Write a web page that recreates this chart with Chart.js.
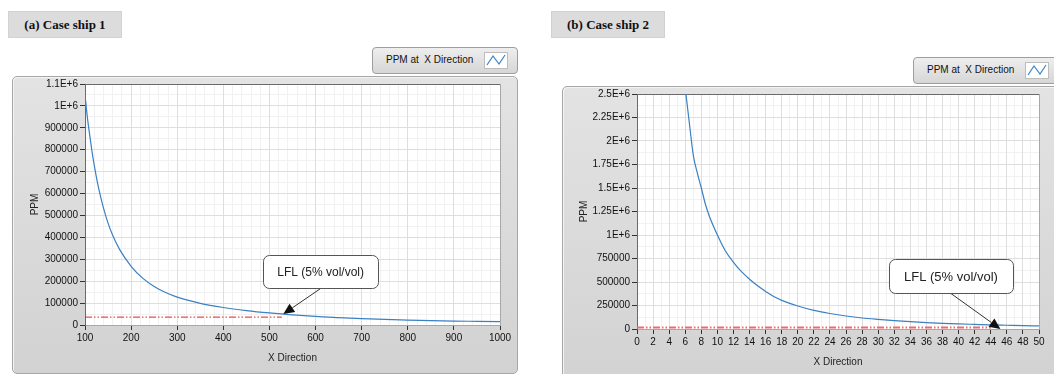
<!DOCTYPE html>
<html>
<head>
<meta charset="utf-8">
<script src="https://cdn.jsdelivr.net/npm/chart.js@4.4.1/dist/chart.umd.min.js"></script>
<style>
  html, body { margin: 0; padding: 0; background: #fff; width: 1054px; height: 374px; overflow: hidden; position: relative; }
  .tag { position: absolute; height: 25px; background: #dcdcdc; border: 1px solid #d2d2d2; font: bold 13px "Liberation Serif", "Times New Roman", serif; color: #111; line-height: 25px; text-align: center; }
  .panel { position: absolute; background: linear-gradient(#e3e3e3, #d2d2d2); border: 1px solid #a6a6a6; border-radius: 5px; box-shadow: inset 1px 1px 0 #f3f3f3; }
  .legend { position: absolute; height: 25px; background: linear-gradient(#eeeeee, #d6d6d6); border: 1px solid #9e9e9e; border-radius: 4px; font: 10px "Liberation Sans", Arial, sans-serif; color: #111; }
  .legend span { position: absolute; left: 13px; top: 6px; white-space: nowrap; }
  .legend svg { position: absolute; left: 111px; top: 4px; }
  canvas { position: absolute; }
</style>
</head>
<body>
<div class="tag" style="left:8px;top:11px;width:112px;">(a) Case ship 1</div>
<div class="tag" style="left:551px;top:11px;width:112px;">(b) Case ship 2</div>

<div class="panel" style="left:12px;top:76px;width:504px;height:296px;"></div>
<div class="panel" style="left:562px;top:86px;width:500px;height:300px;"></div>

<div class="legend" style="left:372px;top:47px;width:144px;">
  <span>PPM at&nbsp; X Direction</span>
  <svg width="24" height="17"><rect x="0.5" y="0.5" width="23" height="16" fill="#fff" stroke="#bdbdbd"/><polyline points="3,13 9,4 15,12 21,3" fill="none" stroke="#3b82c4" stroke-width="1.2"/></svg>
</div>
<div class="legend" style="left:913px;top:57px;width:150px;">
  <span>PPM at&nbsp; X Direction</span>
  <svg width="24" height="17"><rect x="0.5" y="0.5" width="23" height="16" fill="#fff" stroke="#bdbdbd"/><polyline points="3,13 9,4 15,12 21,3" fill="none" stroke="#3b82c4" stroke-width="1.2"/></svg>
</div>

<canvas id="ship1" width="506" height="296" style="left:12px;top:76px;"></canvas>
<canvas id="ship2" width="492" height="288" style="left:562px;top:86px;"></canvas>

<script>
// Case ship 1: concentration along the X direction
const ship1X   = [100, 105, 110, 115, 120, 130, 140, 150, 160, 175, 200, 225, 250, 275, 300, 350, 400, 450, 500, 550, 600, 650, 700, 750, 800, 850, 900, 950, 1000];
const ship1PPM = [1050000, 950000, 870000, 795000, 730000, 620000, 535000, 465000, 410000, 345000, 268000, 214000, 176000, 148000, 127000, 99000, 80000, 66000, 55000, 46000, 39000, 34000, 29500, 25500, 22500, 20000, 18000, 16500, 15000];
const ship1LflX   = [100, 527];
const ship1LflPPM = [36000, 36000];

// Case ship 2: concentration along the X direction
const ship2X   = [6, 6.5, 7, 7.5, 8, 8.5, 9, 10, 11, 12, 13, 14, 15, 16, 17, 18, 20, 22, 24, 26, 28, 30, 32, 34, 36, 38, 40, 42, 44, 46, 48, 50];
const ship2PPM = [2560000, 2200000, 1850000, 1660000, 1500000, 1330000, 1200000, 1000000, 830000, 710000, 610000, 530000, 460000, 400000, 345000, 305000, 245000, 198000, 165000, 138000, 117000, 102000, 89000, 78000, 68000, 60000, 54000, 49000, 44000, 40000, 36000, 33000];
const ship2LflX   = [0, 44];
const ship2LflPPM = [15000, 15000];

// Axis ranges and tick steps
const ship1XRange = [100, 1000], ship1XStep = 100, ship1XMinor = 20;
const ship1YRange = [0, 1100000], ship1YStep = 100000, ship1YMinor = 50000;
const ship2XRange = [0, 50], ship2XStep = 2, ship2XMinor = 1;
const ship2YRange = [0, 2500000], ship2YStep = 250000, ship2YMinor = 125000;

// Callout anchors (data coordinates): arrow tip and box centre
const ship1Tip = [530, 50000], ship1Box = [611, 245000];
const ship2Tip = [45.2, 0],    ship2Box = [39.05, 564000];
const lflText = 'LFL (5% vol/vol)';

const pts = (xs, ys) => xs.map((x, i) => ({ x, y: ys[i] }));

function ppmLabel(v) {
  if (v >= 1e6) return (Math.round(v / 1e4) / 100) + 'E+6';
  return String(Math.round(v));
}

const tickFont = { family: '"Liberation Sans", Arial, sans-serif', size: 10 };

// white plotting surface
const plotFill = {
  id: 'plotFill',
  beforeDraw(chart) {
    const { ctx, chartArea: a } = chart;
    ctx.save();
    ctx.fillStyle = '#ffffff';
    ctx.fillRect(a.left, a.top, a.right - a.left, a.bottom - a.top);
    ctx.restore();
  }
};

// rounded label box with an arrow pointing to the curve
const callout = {
  id: 'callout',
  afterDatasetsDraw(chart, args, o) {
    const xs = chart.scales.x, ys = chart.scales.y, ctx = chart.ctx;
    const tx = xs.getPixelForValue(o.tip[0]), ty = ys.getPixelForValue(o.tip[1]);
    const cx = xs.getPixelForValue(o.box[0]), cy = ys.getPixelForValue(o.box[1]);
    const w = o.w, h = o.h, r = 6;
    const x0 = Math.round(cx - w / 2) + 0.5, y0 = Math.round(cy - h / 2) + 0.5;
    ctx.save();
    // arrow shaft
    const sx = cx, sy = y0 + h;
    const ang = Math.atan2(ty - sy, tx - sx);
    const L = 11, hw = 5;
    const bx = tx - L * Math.cos(ang), by = ty - L * Math.sin(ang);
    ctx.strokeStyle = '#333';
    ctx.lineWidth = 1;
    ctx.beginPath(); ctx.moveTo(sx, sy); ctx.lineTo(bx, by); ctx.stroke();
    ctx.fillStyle = '#111';
    ctx.beginPath();
    ctx.moveTo(tx, ty);
    ctx.lineTo(bx + hw * Math.sin(ang), by - hw * Math.cos(ang));
    ctx.lineTo(bx - hw * Math.sin(ang), by + hw * Math.cos(ang));
    ctx.closePath(); ctx.fill();
    // box
    ctx.beginPath();
    ctx.moveTo(x0 + r, y0);
    ctx.arcTo(x0 + w, y0, x0 + w, y0 + h, r);
    ctx.arcTo(x0 + w, y0 + h, x0, y0 + h, r);
    ctx.arcTo(x0, y0 + h, x0, y0, r);
    ctx.arcTo(x0, y0, x0 + w, y0, r);
    ctx.closePath();
    ctx.fillStyle = '#fff'; ctx.fill();
    ctx.strokeStyle = '#555'; ctx.stroke();
    ctx.fillStyle = '#222';
    ctx.font = o.fontSize + 'px "Liberation Sans", Arial, sans-serif';
    ctx.textAlign = 'center'; ctx.textBaseline = 'middle';
    ctx.fillText(o.text, cx, cy + 1);
    ctx.restore();
  }
};

function buildChart(id, cfg) {
  return new Chart(document.getElementById(id), {
    type: 'line',
    data: {
      datasets: [
        {
          data: pts(cfg.lflX, cfg.lflY),
          borderColor: cfg.lflColor, borderWidth: cfg.lflWidth,
          borderDash: [7, 2, 1.5, 2, 1.5, 2],
          pointRadius: 0, xAxisID: 'x', yAxisID: 'y'
        },
        {
          data: pts(cfg.xs, cfg.ys),
          borderColor: '#3a80c3', borderWidth: 1.2,
          cubicInterpolationMode: 'monotone',
          pointRadius: 0, xAxisID: 'x', yAxisID: 'y'
        }
      ]
    },
    options: {
      responsive: false, animation: false, devicePixelRatio: 1,
      layout: { padding: { left: 0, top: cfg.padTop, right: cfg.padRight, bottom: 0 } },
      plugins: {
        legend: { display: false }, tooltip: { enabled: false },
        callout: cfg.callout
      },
      scales: {
        xMinor: {
          type: 'linear', position: 'top', min: cfg.xRange[0], max: cfg.xRange[1],
          ticks: { display: false, stepSize: cfg.xMinor, autoSkip: false },
          grid: { color: '#f1f1f1', drawTicks: false, z: -2 },
          border: { color: '#6a6a6a' },
          afterFit: s => { s.height = 0; }
        },
        yMinor: {
          type: 'linear', position: 'right', min: cfg.yRange[0], max: cfg.yRange[1],
          ticks: { display: false, stepSize: cfg.yMinor },
          grid: { color: '#f1f1f1', drawTicks: false, z: -2 },
          border: { color: '#a8a8a8' },
          afterFit: s => { s.width = 0; }
        },
        x: {
          type: 'linear', position: 'bottom', min: cfg.xRange[0], max: cfg.xRange[1],
          ticks: { stepSize: cfg.xStep, autoSkip: false, maxRotation: 0, padding: 2, color: '#111', font: tickFont, callback: v => String(v) },
          grid: { color: '#dedede', tickColor: '#333', tickLength: 5, z: -1 },
          border: { color: '#a8a8a8' },
          title: { display: true, text: 'X Direction', color: '#222', font: tickFont, padding: { top: 0, bottom: cfg.xTitlePad } },
          afterFit: s => { s.height = cfg.xAxisH; }
        },
        y: {
          type: 'linear', position: 'left', min: cfg.yRange[0], max: cfg.yRange[1],
          ticks: { stepSize: cfg.yStep, padding: 2, color: '#111', font: tickFont, callback: v => ppmLabel(v) },
          grid: { color: '#dedede', tickColor: '#333', tickLength: 5, z: -1 },
          border: { color: '#6a6a6a' },
          title: { display: true, text: 'PPM', color: '#222', font: tickFont, padding: { top: cfg.yTitlePad, bottom: 0 } },
          afterFit: s => { s.width = cfg.yAxisW; }
        }
      }
    },
    plugins: [plotFill, callout]
  });
}

buildChart('ship1', {
  xs: ship1X, ys: ship1PPM, lflX: ship1LflX, lflY: ship1LflPPM,
  lflColor: '#e2231a', lflWidth: 1,
  xRange: ship1XRange, xStep: ship1XStep, xMinor: ship1XMinor,
  yRange: ship1YRange, yStep: ship1YStep, yMinor: ship1YMinor,
  padTop: 8, padRight: 18, xAxisH: 47, yAxisW: 73, xTitlePad: 8, yTitlePad: 17,
  callout: { tip: ship1Tip, box: ship1Box, w: 115, h: 33, text: lflText, fontSize: 12 }
});

buildChart('ship2', {
  xs: ship2X, ys: ship2PPM, lflX: ship2LflX, lflY: ship2LflPPM,
  lflColor: '#f06a6a', lflWidth: 2,
  xRange: ship2XRange, xStep: ship2XStep, xMinor: ship2XMinor,
  yRange: ship2YRange, yStep: ship2YStep, yMinor: ship2YMinor,
  padTop: 8, padRight: 15, xAxisH: 45, yAxisW: 75, xTitlePad: 6, yTitlePad: 16,
  callout: { tip: ship2Tip, box: ship2Box, w: 124, h: 34, text: lflText, fontSize: 13 }
});
</script>
</body>
</html>
